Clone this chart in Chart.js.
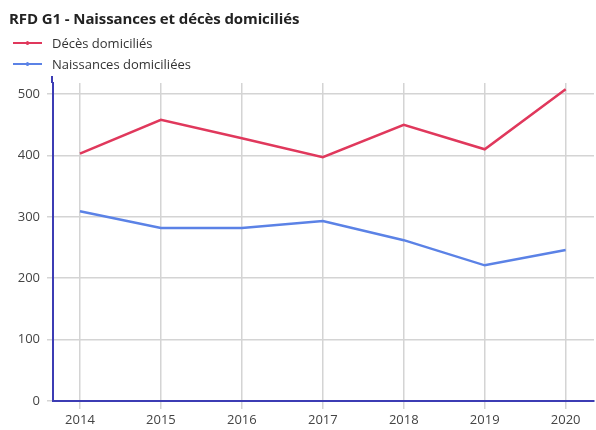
<!DOCTYPE html>
<html>
<head>
<meta charset="utf-8">
<script src="https://cdn.jsdelivr.net/npm/chart.js@4"></script>
<style>
  html, body { margin: 0; padding: 0; background: #fff; }
  #wrap { position: relative; width: 596px; height: 430px; font-family: "Open Sans", sans-serif; }
  #title { position: absolute; left: 9px; top: 8px; font-size: 15px; font-weight: bold; color: #222; white-space: nowrap; letter-spacing: -0.1px; }
  #legend { position: absolute; left: 13px; top: 32px; font-size: 13px; color: #333; }
  .item { height: 21px; display: flex; align-items: center; }
  .mark { position: relative; width: 29px; height: 2px; margin-right: 10px; }
  .mark i { position: absolute; left: 13px; top: -1px; width: 3px; height: 4px; border-radius: 2px; }
  canvas { position: absolute; left: 0; top: 0; }
</style>
</head>
<body>
<div id="wrap">
  <canvas id="c" width="596" height="430"></canvas>
  <div id="title">RFD G1 - Naissances et décès domiciliés</div>
  <div id="legend"></div>
</div>
<script>
  var years = [2014, 2015, 2016, 2017, 2018, 2019, 2020];
  var deces = [403, 458, 428, 397, 450, 410, 508];
  var naissances = [309, 282, 282, 293, 262, 221, 246];
  var yTicks = [0, 100, 200, 300, 400, 500];

  var RED = "#e0385c";
  var BLUE = "#5b82e6";
  var AXIS = "#3c3cb4";
  var GRID = "#d4d4d4";

  function pts(vals) {
    return years.map(function (y, i) { return { x: y, y: vals[i] }; });
  }

  // y axis line runs a bit above the plot area, as in the source
  var axisTop = {
    id: "axisTop",
    afterDraw: function (c) {
      var a = c.chartArea, ctx = c.ctx;
      ctx.save();
      ctx.strokeStyle = AXIS;
      ctx.lineWidth = 2;
      ctx.beginPath();
      ctx.moveTo(a.left - 1, a.top);
      ctx.lineTo(a.left - 1, a.top - 7);
      ctx.stroke();
      ctx.restore();
    }
  };

  var chart = new Chart(document.getElementById("c"), {
    type: "line",
    data: {
      datasets: [
        { label: "Décès domiciliés", data: pts(deces), borderColor: RED, backgroundColor: RED, borderWidth: 2.5, pointRadius: 0, tension: 0 },
        { label: "Naissances domiciliées", data: pts(naissances), borderColor: BLUE, backgroundColor: BLUE, borderWidth: 2.5, pointRadius: 0, tension: 0 }
      ]
    },
    options: {
      responsive: false, animation: false,
      layout: { padding: { top: 83, right: 2, left: 0, bottom: 0 } },
      plugins: { legend: { display: false }, title: { display: false }, tooltip: { enabled: false } },
      scales: {
        x: {
          type: "linear", min: 2013.667, max: 2020.35,
          afterBuildTicks: function (s) { s.ticks = years.map(function (v) { return { value: v }; }); },
          afterFit: function (s) { s.height = 29; },
          grid: { color: GRID, lineWidth: 1.5, tickLength: 8 },
          border: { color: AXIS, width: 2 },
          ticks: { color: "#444", font: { family: "'Open Sans', sans-serif", size: 13 }, padding: 3, maxRotation: 0, callback: function (v) { return String(v); } }
        },
        y: {
          min: 0, max: 518,
          afterBuildTicks: function (s) { s.ticks = yTicks.map(function (v) { return { value: v }; }); },
          afterFit: function (s) { s.width = 53; },
          grid: { color: GRID, lineWidth: 1.5, tickLength: 6 },
          border: { color: AXIS, width: 2 },
          ticks: { color: "#444", font: { family: "'Open Sans', sans-serif", size: 13 }, padding: 7 }
        }
      }
    },
    plugins: [axisTop]
  });

  // legend built from the datasets
  var $legend = document.getElementById("legend");
  chart.data.datasets.forEach(function (ds) {
    var row = document.createElement("div");
    row.className = "item";
    row.innerHTML = '<span class="mark" style="background:' + ds.borderColor + '"><i style="background:' + ds.borderColor + '"></i></span>' + ds.label;
    $legend.appendChild(row);
  });
</script>
</body>
</html>
